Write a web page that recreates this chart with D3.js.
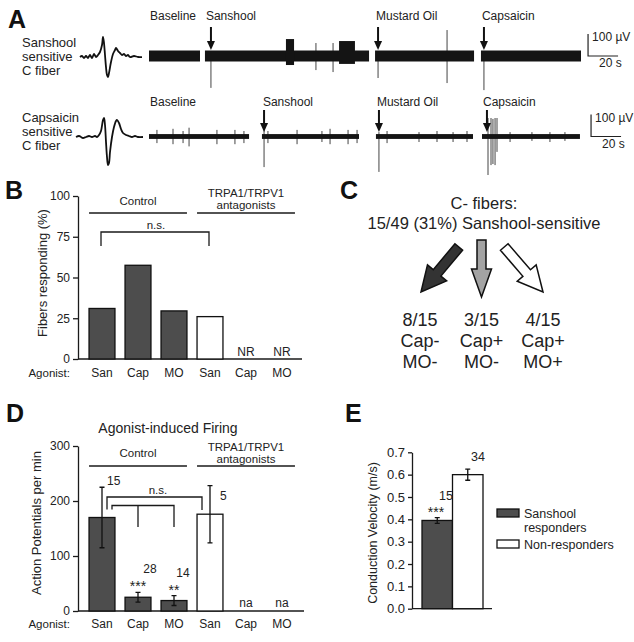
<!DOCTYPE html>
<html><head><meta charset="utf-8">
<script src="https://cdn.jsdelivr.net/npm/d3@7"></script>
<style>
body{margin:0;background:#fff}
svg{display:block}
text{font-family:"Liberation Sans",Arial,Helvetica,sans-serif;fill:#222}
</style>
</head><body>
<svg id="chart" width="634" height="642"></svg>
<script>
// ================= DATA =================
// Panel A (time in s, voltage in µV)
const segmentLabels = ["Baseline", "Sanshool", "Mustard Oil", "Capsaicin"];
const traceNames1 = ["Sanshool", "sensitive", "C fiber"];
const traceNames2 = ["Capsaicin", "sensitive", "C fiber"];
const segments1 = [[0, 34], [37.3, 146.7], [150.7, 216.7], [221.3, 288]];
const segments2 = [[0, 66.7], [75.3, 140], [151.3, 216], [222, 287.3]];
const stimulusTimes1 = [null, 41.3, 152.7, 223.3];
const stimulusTimes2 = [null, 76.7, 153.3, 225.3];
const noiseAmp1 = 25;
const noiseAmp2 = 11;
const bursts1 = [[91.3, 96.7, 77, -41], [126.7, 137.3, 68, -36]];
const bursts2 = [];
const spikes1 = [[41.3, 8, -145], [111.3, 59, -64], [122.7, 59, -73], [152.7, 8, -100], [198.7, 118, -123], [223.3, 8, -155]];
const spikes2 = [
  [5.3, 30, -30], [16, 35, -35], [22.7, 25, -30], [26.7, 40, -45], [45.3, 30, -35], [57.3, 30, -35], [63.3, 25, -30],
  [76.7, 39, -139], [79.3, 25, -30], [98.7, 30, -35], [115.3, 25, -25], [120.7, 35, -35], [132.7, 30, -35], [138.7, 30, -30],
  [153.3, 20, -161], [158.7, 25, -30], [180, 20, -25], [192, 25, -25], [202.7, 20, -25], [212, 25, -25],
  [226, 84, -175], [228, 84, -130], [229.3, 80, -125], [230.7, 84, -130], [232, 84, -70],
  [240.7, 20, -25], [255.3, 20, -20], [267.3, 20, -25], [277.3, 20, -20]
];
const waveform1 = [[0,0],[2,1],[4,-1],[6,1],[8,-1],[10,2],[12,-1],[14,3],[16,0],[18,2],[20,5],[22,12],[23,20],[24,14],[25,2],[26,-10],[27,-18],[28,-20],[29,-16],[31,-5],[33,3],[35,7],[36,9],[38,6],[40,4],[42,2],[44,3],[46,1],[48,2],[50,0],[54,1],[58,0],[62,0]];
const waveform2 = [[0,0],[3,1],[5,0],[7,-1],[10,0],[13,1],[16,0],[19,1],[21,0],[23,2],[25,6],[27,17],[28,19],[29,12],[30,-5],[31,-20],[32,-28],[33,-26],[34,-15],[36,0],[38,10],[40,16],[41,17],[43,14],[45,8],[47,4],[50,2],[53,1],[56,0],[59,1],[62,0],[67,0]];
const scaleBarUV = 100;
const scaleBarS = 20;

// Panels B and D
const agonists = ["San", "Cap", "MO", "San", "Cap", "MO"];
const treatment = ["Control", "Control", "Control", "Antagonist", "Antagonist", "Antagonist"];
const fibersResponding = [31, 57.5, 29.5, 26, null, null];
const yTicksB = [0, 25, 50, 75, 100];
const firingMean = [170, 25, 19, 176, null, null];
const firingSem = [55, 9, 9, 52, null, null];
const firingN = [15, 28, 14, 5, null, null];
const firingStars = ["", "***", "**", "", "", ""];
const yTicksD = [0, 100, 200, 300];

// Panel C
const cFiberTotal = 49;
const sanshoolSensitive = 15;
const subgroupCounts = [8, 3, 4];
const subgroupCap = ["Cap-", "Cap+", "Cap+"];
const subgroupMO = ["MO-", "MO-", "MO+"];

// Panel E
const cvGroups = ["Sanshool responders", "Non-responders"];
const cvLegend = [["Sanshool", "responders"], ["Non-responders"]];
const cvMean = [0.395, 0.60];
const cvSem = [0.013, 0.025];
const cvN = [15, 34];
const cvStars = ["***", ""];
const yTicksE = [0, 0.1, 0.2, 0.3, 0.4, 0.5, 0.6, 0.7];

// ================= DRAWING =================
const svg = d3.select("#chart");
svg.append("rect").attr("width", 634).attr("height", 642).attr("fill", "#fff");
const DARK = "#4d4d4d", INK = "#1a1a1a";

function panelLabel(t, x, y) {
  svg.append("text").attr("x", x).attr("y", y).text(t)
    .style("font-size", "25px").style("font-weight", "bold").style("fill", "#111");
}
panelLabel("A", 8, 28);
panelLabel("B", 5, 199);
panelLabel("C", 340, 199);
panelLabel("D", 6, 422);
panelLabel("E", 345, 422);

// ---------- Panel A ----------
const xT = d3.scaleLinear().domain([0, 316]).range([149, 623]);
const vScaleK = 0.22; // px per µV
function drawTrace(cfg) {
  const g = svg.append("g");
  const yV = d3.scaleLinear().domain([-100, 100]).range([cfg.y0 + 100 * vScaleK, cfg.y0 - 100 * vScaleK]);
  cfg.names.forEach((n, i) => g.append("text").attr("x", 22).attr("y", cfg.nameY + i * 14).text(n).style("font-size", "13px"));
  const wx = d3.scaleLinear().domain([0, 1]).range([cfg.wx0, cfg.wx0 + 1]);
  const wy = d3.scaleLinear().domain([0, 1]).range([cfg.wy0, cfg.wy0 - 1]);
  g.append("path").datum(cfg.waveform)
    .attr("d", d3.line().x(d => wx(d[0])).y(d => wy(d[1])).curve(d3.curveCatmullRom))
    .attr("fill", "none").attr("stroke", "#111").attr("stroke-width", 1.8);
  g.selectAll(".spk").data(cfg.spikes).join("line")
    .attr("x1", d => xT(d[0])).attr("x2", d => xT(d[0]))
    .attr("y1", d => yV(d[1])).attr("y2", d => yV(d[2]))
    .attr("stroke", "#444").attr("stroke-width", 1);
  g.selectAll(".seg").data(cfg.segments).join("rect")
    .attr("x", d => xT(d[0])).attr("width", d => xT(d[1]) - xT(d[0]))
    .attr("y", yV(cfg.noise)).attr("height", yV(-cfg.noise) - yV(cfg.noise))
    .attr("fill", "#141414");
  g.selectAll(".burst").data(cfg.bursts).join("rect")
    .attr("x", d => xT(d[0])).attr("width", d => xT(d[1]) - xT(d[0]))
    .attr("y", d => yV(d[2])).attr("height", d => yV(d[3]) - yV(d[2]))
    .attr("fill", "#141414");
  cfg.segments.forEach((s, i) => {
    g.append("text").attr("x", xT(s[0]) + 1).attr("y", cfg.labelY).text(segmentLabels[i]).style("font-size", "12px");
  });
  cfg.stim.forEach(t => {
    if (t == null) return;
    const x = xT(t);
    g.append("line").attr("x1", x).attr("x2", x).attr("y1", cfg.arrowTop).attr("y2", cfg.arrowTip - 6)
      .attr("stroke", "#111").attr("stroke-width", 2);
    g.append("path").attr("d", `M${x - 4},${cfg.arrowTip - 9}L${x + 4},${cfg.arrowTip - 9}L${x},${cfg.arrowTip}Z`).attr("fill", "#111");
  });
  const sx = xT(cfg.sbT), sy = yV(0);
  g.append("path").attr("d", `M${sx},${yV(scaleBarUV)}V${sy}H${xT(cfg.sbT + scaleBarS)}`)
    .attr("fill", "none").attr("stroke", "#222").attr("stroke-width", 1.2);
  g.append("text").attr("x", sx + 4).attr("y", yV(scaleBarUV) + 7).text(scaleBarUV + " µV").style("font-size", "12px");
  g.append("text").attr("x", sx + 11).attr("y", sy + 11).text(scaleBarS + " s").style("font-size", "12px");
}
drawTrace({ y0: 56, names: traceNames1, nameY: 47, waveform: waveform1, wx0: 80, wy0: 57,
  spikes: spikes1, segments: segments1, noise: noiseAmp1, bursts: bursts1, stim: stimulusTimes1,
  labelY: 20, arrowTop: 27, arrowTip: 50, sbT: 292.7 });
drawTrace({ y0: 136.5, names: traceNames2, nameY: 122, waveform: waveform2, wx0: 76, wy0: 137,
  spikes: spikes2, segments: segments2, noise: noiseAmp2, bursts: bursts2, stim: stimulusTimes2,
  labelY: 106, arrowTop: 110, arrowTip: 132, sbT: 294.7 });

// ---------- shared bar-panel helper (B and D) ----------
const xBand = d3.scaleBand().domain(d3.range(agonists.length)).range([84, 300]).paddingInner(0.28).paddingOuter(0.14);
const bw = xBand.bandwidth();
const cx = i => xBand(i) + bw / 2;

function yAxis(g, scale, ticks, x, fmt, fs, size) {
  const ax = d3.axisLeft(scale).tickValues(ticks).tickSize(size).tickSizeOuter(0).tickPadding(3);
  if (fmt) ax.tickFormat(fmt);
  const a = g.append("g").attr("transform", `translate(${x},0)`).call(ax);
  a.selectAll("path,line").attr("stroke", INK).attr("stroke-width", 1.3);
  a.selectAll("text").style("font-size", fs).style("font-family", '"Liberation Sans",Arial,sans-serif').attr("fill", "#222");
}
function groupHeaders(g, lineY, ctrlY, antY) {
  const controlIdx = d3.range(agonists.length).filter(i => treatment[i] === "Control");
  const antIdx = d3.range(agonists.length).filter(i => treatment[i] !== "Control");
  [controlIdx, antIdx].forEach(ids => {
    const x0 = xBand(ids[0]), x1 = xBand(ids[ids.length - 1]) + bw;
    g.append("line").attr("x1", x0).attr("x2", x1).attr("y1", lineY).attr("y2", lineY).attr("stroke", INK).attr("stroke-width", 1.3);
  });
  const cmid = (xBand(controlIdx[0]) + xBand(controlIdx[controlIdx.length - 1]) + bw) / 2;
  const amid = (xBand(antIdx[0]) + xBand(antIdx[antIdx.length - 1]) + bw) / 2;
  g.append("text").attr("x", cmid).attr("y", ctrlY).attr("text-anchor", "middle").text("Control").style("font-size", "11.5px");
  g.append("text").attr("x", amid).attr("y", antY).attr("text-anchor", "middle").text("TRPA1/TRPV1").style("font-size", "11.5px");
  g.append("text").attr("x", amid).attr("y", antY + 12).attr("text-anchor", "middle").text("antagonists").style("font-size", "11.5px");
}
function agonistRow(g, y) {
  g.append("text").attr("x", 70).attr("y", y).attr("text-anchor", "end").text("Agonist:").style("font-size", "11.5px");
  agonists.forEach((a, i) => g.append("text").attr("x", cx(i)).attr("y", y).attr("text-anchor", "middle").text(a).style("font-size", "12px"));
}

// ---------- Panel B ----------
{
  const g = svg.append("g");
  const y = d3.scaleLinear().domain([0, 100]).range([359, 196]);
  yAxis(g, y, yTicksB, 78, null, "12px", 5);
  g.append("line").attr("x1", 78).attr("x2", 302).attr("y1", y(0)).attr("y2", y(0)).attr("stroke", INK).attr("stroke-width", 1.3);
  g.selectAll(".bar").data(fibersResponding.map((v, i) => ({ v, i })).filter(d => d.v != null)).join("rect")
    .attr("x", d => xBand(d.i)).attr("width", bw)
    .attr("y", d => y(d.v)).attr("height", d => y(0) - y(d.v))
    .attr("fill", d => treatment[d.i] === "Control" ? DARK : "#fff").attr("stroke", "#111").attr("stroke-width", 1.3);
  fibersResponding.forEach((v, i) => {
    if (v == null) g.append("text").attr("x", cx(i)).attr("y", 356).attr("text-anchor", "middle").text("NR").style("font-size", "12px");
  });
  groupHeaders(g, 213, 205, 197);
  g.append("path").attr("d", `M${cx(0) - 1},246V232H${cx(3) - 1}V246`).attr("fill", "none").attr("stroke", INK).attr("stroke-width", 1.3);
  g.append("text").attr("x", (cx(0) + cx(3)) / 2).attr("y", 229).attr("text-anchor", "middle").text("n.s.").style("font-size", "11.5px");
  agonistRow(g, 377);
  g.append("text").attr("transform", "translate(47,273) rotate(-90)").attr("text-anchor", "middle")
    .text("Fibers responding (%)").style("font-size", "13px");
}

// ---------- Panel C ----------
{
  const g = svg.append("g");
  const mid = 484;
  g.append("text").attr("x", mid).attr("y", 209).attr("text-anchor", "middle").text("C- fibers:").style("font-size", "16.5px");
  g.append("text").attr("x", mid).attr("y", 229).attr("text-anchor", "middle")
    .text(`${sanshoolSensitive}/${cFiberTotal} (${Math.round(100 * sanshoolSensitive / cFiberTotal)}%) Sanshool-sensitive`).style("font-size", "16.5px");
  const xs = d3.scalePoint().domain(d3.range(subgroupCounts.length)).range([420, 543]);
  const fills = ["#333", "#a3a3a3", "#fff"];
  subgroupCounts.forEach((c, i) => {
    const side = Math.abs(i - 1);
    const tail = [481.5 + (xs(i) - 481.5) * 0.37, 240 + 7 * side];
    const tip = [xs(i) + (i === 0 ? 1 : 0), 297 - 5 * side];
    const L = Math.hypot(tip[0] - tail[0], tip[1] - tail[1]);
    const ang = Math.atan2(tip[1] - tail[1], tip[0] - tail[0]) * 180 / Math.PI;
    const hs = side ? 5 : 4.5, hh = side ? 12.5 : 10, hl = side ? 25 : 28;
    const pts = [[0, -hs], [L - hl, -hs], [L - hl, -hh], [L, 0], [L - hl, hh], [L - hl, hs], [0, hs]];
    g.append("path").attr("d", "M" + pts.map(p => p.join(",")).join("L") + "Z")
      .attr("transform", `translate(${tail[0]},${tail[1]}) rotate(${ang})`)
      .attr("fill", fills[i]).attr("stroke", "#111").attr("stroke-width", 1.5).attr("stroke-linejoin", "miter");
    [`${c}/${sanshoolSensitive}`, subgroupCap[i], subgroupMO[i]].forEach((t, k) => {
      g.append("text").attr("x", xs(i)).attr("y", 326 + 21 * k).attr("text-anchor", "middle").text(t).style("font-size", "18px");
    });
  });
}

// ---------- Panel D ----------
{
  const g = svg.append("g");
  const y = d3.scaleLinear().domain([0, 300]).range([611, 446]);
  yAxis(g, y, yTicksD, 78, null, "12px", 5);
  g.append("line").attr("x1", 78).attr("x2", 304).attr("y1", y(0)).attr("y2", y(0)).attr("stroke", INK).attr("stroke-width", 1.3);
  const rows = firingMean.map((v, i) => ({ v, i, e: firingSem[i] })).filter(d => d.v != null);
  g.selectAll(".bar").data(rows).join("rect")
    .attr("x", d => xBand(d.i)).attr("width", bw)
    .attr("y", d => y(d.v)).attr("height", d => y(0) - y(d.v))
    .attr("fill", d => treatment[d.i] === "Control" ? DARK : "#fff").attr("stroke", "#111").attr("stroke-width", 1.3);
  rows.forEach(d => {
    const x = cx(d.i);
    g.append("path").attr("d", `M${x},${y(d.v + d.e)}V${y(d.v - d.e)}M${x - 2.5},${y(d.v + d.e)}H${x + 2.5}M${x - 2.5},${y(d.v - d.e)}H${x + 2.5}`)
      .attr("stroke", "#111").attr("stroke-width", 1.3).attr("fill", "none");
  });
  const nOff = [[5, -2, "start"], [12, -19, "middle"], [9, -19, "middle"], [10, 14, "start"]];
  rows.forEach(d => {
    const o = nOff[d.i];
    g.append("text").attr("x", cx(d.i) + o[0]).attr("y", y(d.v + d.e) + o[1]).attr("text-anchor", o[2])
      .text(firingN[d.i]).style("font-size", "12px");
    if (firingStars[d.i]) g.append("text").attr("x", cx(d.i)).attr("y", y(d.v + d.e) - 1).attr("text-anchor", "middle")
      .text(firingStars[d.i]).style("font-size", "14px");
  });
  firingMean.forEach((v, i) => {
    if (v == null) g.append("text").attr("x", cx(i)).attr("y", 607).attr("text-anchor", "middle").text("na").style("font-size", "12px");
  });
  groupHeaders(g, 466, 457, 451);
  g.append("path").attr("d", `M${cx(0) + 5},509.5V497H${cx(3) - 8}V510`).attr("fill", "none").attr("stroke", INK).attr("stroke-width", 1.3);
  g.append("path").attr("d", `M${cx(0) + 10},509.5V505.5H${cx(2)}V527M${cx(1)},505.5V527`).attr("fill", "none").attr("stroke", INK).attr("stroke-width", 1.3);
  g.append("text").attr("x", 158).attr("y", 494).attr("text-anchor", "middle").text("n.s.").style("font-size", "11.5px");
  agonistRow(g, 628);
  g.append("text").attr("x", 168).attr("y", 433).attr("text-anchor", "middle").text("Agonist-induced Firing").style("font-size", "14px");
  g.append("text").attr("transform", "translate(41,523) rotate(-90)").attr("text-anchor", "middle")
    .text("Action Potentials per min").style("font-size", "13px");
}

// ---------- Panel E ----------
{
  const g = svg.append("g");
  const y = d3.scaleLinear().domain([0, 0.7]).range([608.7, 452.3]);
  const x = d3.scaleBand().domain(cvGroups).range([422, 483]).padding(0);
  yAxis(g, y, yTicksE, 412, d3.format(".1f"), "13px", 4);
  g.append("line").attr("x1", 412).attr("x2", 492).attr("y1", y(0)).attr("y2", y(0)).attr("stroke", INK).attr("stroke-width", 1.3);
  const fillsE = [DARK, "#fff"];
  cvGroups.forEach((grp, i) => {
    g.append("rect").attr("x", x(grp)).attr("width", x.bandwidth()).attr("y", y(cvMean[i])).attr("height", y(0) - y(cvMean[i]))
      .attr("fill", fillsE[i]).attr("stroke", "#111").attr("stroke-width", 1.3);
    const c = x(grp) + x.bandwidth() / 2;
    const t = y(cvMean[i] + cvSem[i]), b = y(cvMean[i] - cvSem[i]);
    g.append("path").attr("d", `M${c},${t}V${b}M${c - 2.5},${t}H${c + 2.5}M${c - 2.5},${b}H${c + 2.5}`)
      .attr("stroke", "#111").attr("stroke-width", 1.3).attr("fill", "none");
  });
  g.append("text").attr("x", 446).attr("y", 500).attr("text-anchor", "middle").text(cvN[0]).style("font-size", "12.5px");
  g.append("text").attr("x", 436).attr("y", 517).attr("text-anchor", "middle").text(cvStars[0]).style("font-size", "14px");
  g.append("text").attr("x", 478).attr("y", 461).attr("text-anchor", "middle").text(cvN[1]).style("font-size", "12.5px");
  cvLegend.forEach((lines, i) => {
    const ly = i === 0 ? 509 : 540;
    g.append("rect").attr("x", 497).attr("y", ly).attr("width", 22).attr("height", 8)
      .attr("fill", fillsE[i]).attr("stroke", "#111").attr("stroke-width", 1.3);
    lines.forEach((t, k) => g.append("text").attr("x", 524).attr("y", ly + 9 + 14 * k).text(t).style("font-size", "12.5px"));
  });
  g.append("text").attr("transform", "translate(377,533) rotate(-90)").attr("text-anchor", "middle")
    .text("Conduction Velocity (m/s)").style("font-size", "12.5px");
}
</script>
</body></html>
